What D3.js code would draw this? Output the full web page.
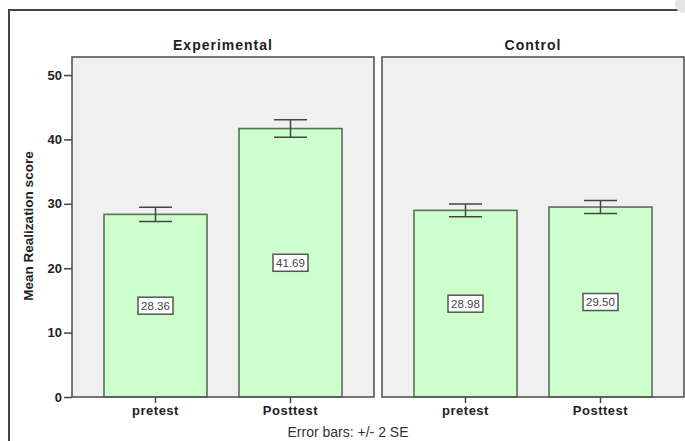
<!DOCTYPE html>
<html>
<head>
<meta charset="utf-8">
<script src="https://cdn.jsdelivr.net/npm/d3@7"></script>
<style>
  body { margin: 0; background: #fff; }
  svg { display: block; font-family: 'Liberation Sans', Arial, sans-serif; }
</style>
</head>
<body>
<div id="chart"></div>
<script>
// data
const groups = ['Experimental', 'Control'];
const tests = ['pretest', 'Posttest'];
const expMeans = [28.36, 41.69];
const ctrlMeans = [28.98, 29.50];
// +/- 2 SE half widths
const expErr = [1.1, 1.35];
const ctrlErr = [1.0, 1.0];
const yTicks = [0, 10, 20, 30, 40, 50];

const w = 685;
const h = 441;

let svg = d3.select('#chart').append('svg').attr('width', w).attr('height', h);

// outer frame
svg.append('path')
  .attr('d', `M9,${h} V10 H${w}`)
  .attr('fill', 'none')
  .attr('stroke', '#444')
  .attr('stroke-width', 2);

// little page-corner shading top right
svg.append('circle')
  .attr('cx', 684).attr('cy', 4).attr('r', 9)
  .attr('fill', '#e4e4e4');

let plotTop = 57;
let plotBottom = 397;

let x0 = d3.scaleBand().domain(groups).range([72, 684]).paddingInner(8 / 310);
let x1 = d3.scaleBand().domain(tests).range([0, x0.bandwidth()]).paddingInner(0.237).paddingOuter(0.237);
let y = d3.scaleLinear().domain([0, 52.8]).range([plotBottom, plotTop]);

let panelData = [
  { name: groups[0], means: expMeans, errs: expErr },
  { name: groups[1], means: ctrlMeans, errs: ctrlErr },
];

let panels = svg.selectAll('g.panel')
  .data(panelData)
  .enter().append('g')
  .attr('class', 'panel')
  .attr('transform', (d) => `translate(${x0(d.name)}, 0)`);

// panel background
panels.append('rect')
  .attr('x', 0)
  .attr('y', plotTop)
  .attr('width', x0.bandwidth())
  .attr('height', plotBottom - plotTop)
  .attr('fill', '#f0f0f0');

// panel title
panels.append('text')
  .attr('x', x0.bandwidth() / 2)
  .attr('y', 50)
  .attr('text-anchor', 'middle')
  .attr('font-size', 14)
  .attr('font-weight', 'bold')
  .attr('letter-spacing', 1)
  .attr('fill', '#222')
  .text((d) => d.name);

// bars
panels.each(function (p) {
  let g = d3.select(this);
  let rows = tests.map((t, i) => ({ test: t, mean: p.means[i], err: p.errs[i] }));

  g.selectAll('rect.bar')
    .data(rows)
    .enter().append('rect')
    .attr('class', 'bar')
    .attr('x', (d) => x1(d.test))
    .attr('y', (d) => y(d.mean))
    .attr('width', x1.bandwidth())
    .attr('height', (d) => y(0) - y(d.mean))
    .attr('fill', '#ccffcc')
    .attr('stroke', '#5b6f5b')
    .attr('stroke-width', 1.6);

  // error bars
  let eg = g.selectAll('g.err')
    .data(rows)
    .enter().append('g')
    .attr('class', 'err')
    .attr('transform', (d) => `translate(${x1(d.test) + x1.bandwidth() / 2}, 0)`)
    .attr('stroke', '#444')
    .attr('stroke-width', 1.5);
  eg.append('line')
    .attr('x1', 0).attr('x2', 0)
    .attr('y1', (d) => y(d.mean + d.err))
    .attr('y2', (d) => y(d.mean - d.err));
  eg.append('line')
    .attr('x1', -16.5).attr('x2', 16.5)
    .attr('y1', (d) => y(d.mean + d.err))
    .attr('y2', (d) => y(d.mean + d.err));
  eg.append('line')
    .attr('x1', -16.5).attr('x2', 16.5)
    .attr('y1', (d) => y(d.mean - d.err))
    .attr('y2', (d) => y(d.mean - d.err));

  // value labels
  let lg = g.selectAll('g.lab')
    .data(rows)
    .enter().append('g')
    .attr('class', 'lab')
    .attr('transform', (d) => `translate(${x1(d.test) + x1.bandwidth() / 2}, ${y(d.mean / 2)})`);
  lg.append('rect')
    .attr('x', -17.5).attr('y', -8.5)
    .attr('width', 35).attr('height', 17)
    .attr('fill', '#fff')
    .attr('stroke', '#555')
    .attr('stroke-width', 1.5);
  lg.append('text')
    .attr('text-anchor', 'middle')
    .attr('dy', '0.36em')
    .attr('font-size', 11.5)
    .attr('fill', '#444')
    .text((d) => d.mean.toFixed(2));

  // bottom category axis
  let ax = d3.axisBottom(x1).tickSize(6).tickPadding(3);
  let axg = g.append('g')
    .attr('transform', `translate(0, ${plotBottom})`)
    .call(ax);
  axg.select('.domain').remove();
  axg.selectAll('line').attr('stroke', '#444').attr('stroke-width', 1.5);
  axg.selectAll('text')
    .attr('font-size', 13)
    .attr('font-weight', 'bold')
    .attr('letter-spacing', 0.5)
    .attr('fill', '#222')
    .attr('font-family', "'Liberation Sans', Arial, sans-serif");

  // panel border
  g.append('rect')
    .attr('x', 0)
    .attr('y', plotTop)
    .attr('width', x0.bandwidth())
    .attr('height', plotBottom - plotTop)
    .attr('fill', 'none')
    .attr('stroke', '#555')
    .attr('stroke-width', 1.6);
});

// y axis
let yAxis = d3.axisLeft(y).tickValues(yTicks).tickSize(8).tickPadding(2);
let yg = svg.append('g')
  .attr('transform', `translate(72, 0)`)
  .call(yAxis);
yg.select('.domain').remove();
yg.selectAll('line').attr('stroke', '#444').attr('stroke-width', 1.5);
yg.selectAll('text')
  .attr('font-size', 13)
  .attr('font-weight', 'bold')
  .attr('fill', '#222')
  .attr('font-family', "'Liberation Sans', Arial, sans-serif");

// y title
svg.append('text')
  .attr('transform', `translate(33, 226) rotate(-90)`)
  .attr('text-anchor', 'middle')
  .attr('font-size', 13.5)
  .attr('font-weight', 'bold')
  .attr('fill', '#222')
  .text('Mean Realization score');

// footnote
svg.append('text')
  .attr('x', 348)
  .attr('y', 437)
  .attr('text-anchor', 'middle')
  .attr('font-size', 14)
  .attr('fill', '#333')
  .text('Error bars: +/- 2 SE');
</script>
</body>
</html>
